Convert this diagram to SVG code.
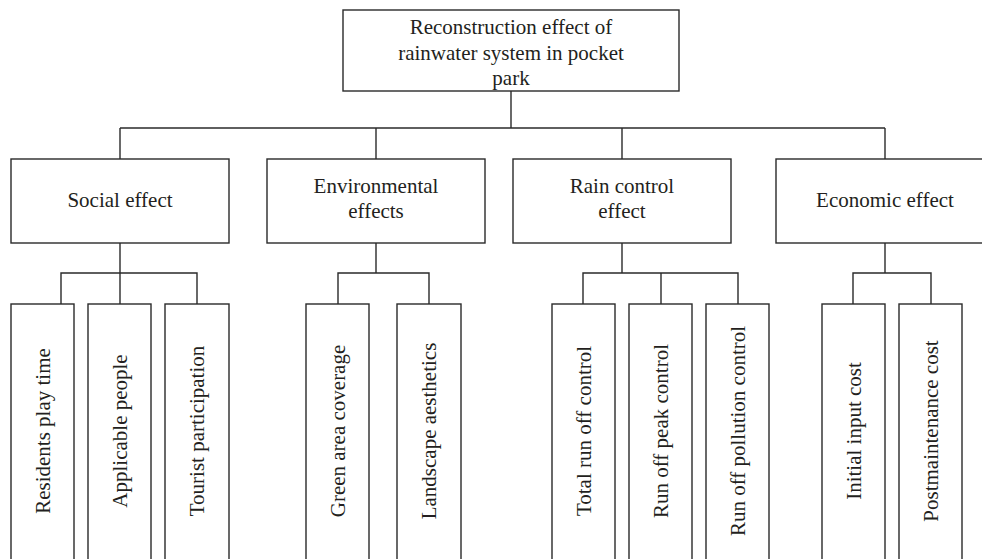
<svg xmlns="http://www.w3.org/2000/svg" width="982" height="559" viewBox="0 0 982 559">
<style>
rect{fill:#fff;stroke:#2a2a2a;stroke-width:1.4}
.c line, .c polyline{stroke:#2a2a2a;stroke-width:1.4;fill:none}
text{font-family:"Liberation Serif","Times New Roman",serif;font-size:21px;fill:#231f20;text-anchor:middle}
</style>
<rect x="0" y="0" width="982" height="559" style="stroke:none"/>
<g class="c" id="connectors">
<line x1="511" y1="91" x2="511" y2="128"/>
<line x1="120" y1="128" x2="885" y2="128"/>
<line x1="120" y1="128" x2="120" y2="159"/>
<line x1="376" y1="128" x2="376" y2="159"/>
<line x1="622" y1="128" x2="622" y2="159"/>
<line x1="885" y1="128" x2="885" y2="159"/>
<line x1="120" y1="243" x2="120" y2="273"/>
<line x1="376" y1="243" x2="376" y2="273"/>
<line x1="622" y1="243" x2="622" y2="273"/>
<line x1="885" y1="243" x2="885" y2="273"/>
<polyline points="61,304 61,273 197,273 197,304"/>
<line x1="120" y1="273" x2="120" y2="304"/>
<polyline points="338,304 338,273 429,273 429,304"/>
<polyline points="583,304 583,273 738,273 738,304"/>
<line x1="661" y1="273" x2="661" y2="304"/>
<polyline points="853,304 853,273 931,273 931,304"/>
</g>
<g id="root">
<rect x="343" y="10" width="336" height="81"/>
<text x="511" y="34">Reconstruction effect of</text>
<text x="511" y="60">rainwater system in pocket</text>
<text x="511" y="85">park</text>
</g>
<g id="social">
<rect x="11" y="159" width="218" height="84"/>
<text x="120" y="207">Social effect</text>
</g>
<g id="environmental">
<rect x="267" y="159" width="218" height="84"/>
<text x="376" y="193">Environmental</text>
<text x="376" y="218">effects</text>
</g>
<g id="rain">
<rect x="513" y="159" width="218" height="84"/>
<text x="622" y="193">Rain control</text>
<text x="622" y="218">effect</text>
</g>
<g id="economic">
<rect x="776" y="159" width="218" height="84"/>
<text x="885" y="207">Economic effect</text>
</g>
<g id="leaf-residents">
<rect x="11" y="304" width="63" height="260"/>
<text transform="translate(49.5,431) rotate(-90)">Residents play time</text>
</g>
<g id="leaf-applicable">
<rect x="88" y="304" width="63" height="260"/>
<text transform="translate(126.5,431) rotate(-90)">Applicable people</text>
</g>
<g id="leaf-tourist">
<rect x="165" y="304" width="64" height="260"/>
<text transform="translate(204,431) rotate(-90)">Tourist participation</text>
</g>
<g id="leaf-green">
<rect x="306" y="304" width="63" height="260"/>
<text transform="translate(344.5,431) rotate(-90)">Green area coverage</text>
</g>
<g id="leaf-landscape">
<rect x="397" y="304" width="64" height="260"/>
<text transform="translate(436,431) rotate(-90)">Landscape aesthetics</text>
</g>
<g id="leaf-total">
<rect x="552" y="304" width="63" height="260"/>
<text transform="translate(590.5,431) rotate(-90)">Total run off control</text>
</g>
<g id="leaf-peak">
<rect x="629" y="304" width="63" height="260"/>
<text transform="translate(667.5,431) rotate(-90)">Run off peak control</text>
</g>
<g id="leaf-pollution">
<rect x="706" y="304" width="63" height="260"/>
<text transform="translate(744.5,431) rotate(-90)">Run off pollution control</text>
</g>
<g id="leaf-initial">
<rect x="822" y="304" width="63" height="260"/>
<text transform="translate(860.5,431) rotate(-90)">Initial input cost</text>
</g>
<g id="leaf-post">
<rect x="899" y="304" width="63" height="260"/>
<text transform="translate(937.5,431) rotate(-90)">Postmaintenance cost</text>
</g>
</svg>
